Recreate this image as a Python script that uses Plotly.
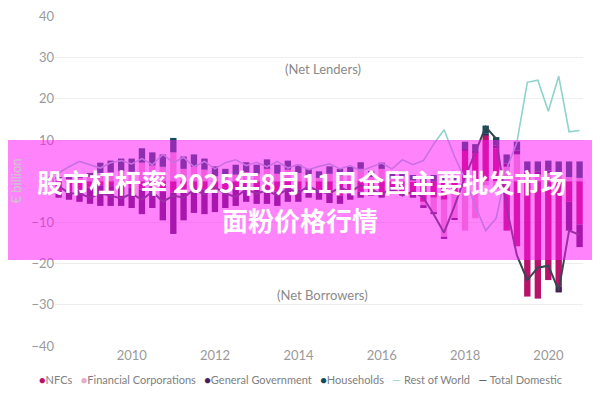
import pandas as pd
import plotly.graph_objects as go

# quarterly, 2008Q1 .. 2020Q3, € billion
quarters = pd.period_range("2008Q1", "2020Q3", freq="Q").to_timestamp(how="end").normalize()

nfcs = [-2.2, -2.5, -2.0, -1.5, -1.0, -1.2, -1.0, -1.5, -2.0, -1.5, -2.5, -2.8,
        -2.5, -1.7, -2.0, -2.5, -2.0, -1.8, -1.2, -1.5, -2.0, -2.5, -1.8, -2.0,
        -1.5, -2.0, -3.0, -3.5, -2.8, -2.5, -2.2, -2.8, -2.0, -2.6, -3.2, -5.0,
        -4.0, -4.5, -3.0, 7.5, 7.0, 11.0, 8.0, -12.0, -15.8, -28.0, -28.5, -24.0,
        -25.5, -5.0, -10.5]
fin_corps = [0.6, 0.5, 0.8, 1.0, 2.0, 2.2, 2.5, 2.3, 4.5, 3.8, 3.5, 7.0,
             3.0, 3.5, 2.8, 1.2, 0.8, 1.6, 2.2, 1.8, 3.0, 1.8, 2.8, 2.0,
             1.2, 0.8, 1.8, 1.3, 1.9, 3.0, 1.0, 3.0, 0.6, 1.1, 0.2, -0.8,
             -3.5, -9.0, -6.0, -12.0, -9.0, -1.0, -2.0, 3.5, 6.5, 1.5, 1.6, 2.0,
             2.0, 1.0, 0.8]
gen_gov = [-1.8, -2.0, -3.0, -4.0, -5.0, -4.8, -5.0, -5.0, -6.0, -5.0, -7.0, -10.0,
           -7.0, -6.0, -6.0, -5.0, -4.5, -4.2, -3.8, -4.0, -3.5, -3.5, -3.2, -3.0,
           -2.5, -2.5, -2.3, -2.0, -1.7, -1.5, -1.3, -1.2, -1.0, -0.9, -0.8, -0.7,
           -0.5, -0.5, -0.3, 0.3, 0.3, 0.5, 0.7, 0.8, 0.9, 1.0, 0.8, 0.6,
           -1.5, -7.0, -5.5]
households = [0.4, 0.5, 0.7, 1.0, 2.5, 2.8, 3.0, 3.2, 3.5, 3.2, 3.0, 3.5,
              3.0, 3.0, 2.7, 2.4, 2.2, 2.4, 2.4, 2.2, 2.3, 2.2, 2.2, 2.0,
              1.8, 1.6, 1.8, 1.7, 1.6, 1.6, 1.5, 1.5, 1.4, 1.4, 1.3, 1.2,
              1.5, 1.0, 1.2, 1.8, 1.7, 2.0, 2.0, 2.2, 2.2, 2.3, 2.4, 2.4,
              2.8, 3.8, 4.0]
rest_of_world = [2.0, 3.5, 4.8, 4.0, 3.2, 4.5, 5.0, 4.2, 5.5, 4.0, 6.5, 4.5,
                 5.8, 3.5, 4.8, 3.0, 4.5, 5.2, 3.8, 4.6, 3.5, 4.8, 3.2, 4.0,
                 2.8, 3.6, 4.2, 3.0, 3.8, 2.5, 3.4, 4.4, 3.0, 5.2, 4.0, 5.0,
                 9.0, 12.5, 6.0, 0.5, -6.0, -12.0, -9.0, 3.0, 9.5, 24.0, 24.5, 17.0,
                 25.5, 12.0, 12.3]
total_domestic = [-1.2, -2.9, -3.0, -4.0, -3.0, -3.5, -4.2, -3.0, -4.5, -2.5, -5.0, -3.5,
                  -4.0, -2.0, -3.2, -1.5, -3.0, -3.8, -2.0, -3.0, -2.2, -3.5, -1.8, -2.8,
                  -1.2, -2.5, -3.0, -1.5, -2.6, -1.0, -2.0, -3.2, -1.5, -3.5, -2.5, -4.0,
                  -8.0, -12.5, -6.0, 1.0, 7.0, 13.2, 10.3, -6.5, -18.0, -24.0, -21.0, -20.5,
                  -26.5, -12.0, -13.0]

FONT = "Lato"
GREY = "#9a9a9a"

# plot area as it lands on the page (the page body adds an 8px offset)
OFFSET = 8
TOP, BOTTOM, LEFT, WIDTH = 16, 346, 55, 528


def py(y_screen):
    return (BOTTOM - y_screen) / (BOTTOM - TOP)


def px(x_screen):
    return (x_screen - LEFT) / WIDTH


fig = go.Figure()

bars = [("NFCs", nfcs, "#B8126A"),
        ("Financial Corporations", fin_corps, "#E8AACB"),
        ("General Government", gen_gov, "#4A1B5C"),
        ("Households", households, "#0F4C5C")]
for name, vals, col in bars:
    fig.add_trace(go.Bar(x=quarters, y=vals, name=name, marker_color=col,
                         marker_line_width=0))

lines = [("Rest of World", rest_of_world, "#8FD3CB", 1.6),
         ("Total Domestic", total_domestic, "#37474F", 2)]
for name, vals, col, w in lines:
    fig.add_trace(go.Scatter(x=quarters, y=vals, name=name, mode="lines",
                             line=dict(color=col, width=w)))

fig.update_layout(
    width=600, height=400,
    margin=dict(l=LEFT - OFFSET, r=600 - (LEFT - OFFSET + WIDTH),
                t=TOP - OFFSET, b=400 - (BOTTOM - OFFSET)),
    barmode="relative", bargap=0.38,
    plot_bgcolor="white", paper_bgcolor="white",
    font=dict(family=FONT, color=GREY, size=12),
    showlegend=False,
    xaxis=dict(type="date", range=["2008-02-28", "2020-10-30"],
               tick0="2010-01-01", dtick="M24", tickformat="%Y",
               showgrid=False, zeroline=False, showline=False, automargin=False,
               tickfont=dict(size=13, color=GREY)),
    yaxis=dict(range=[-40, 40.1], dtick=10, showgrid=True, gridcolor="#eeeeee",
               zeroline=True, zerolinecolor="#eeeeee", zerolinewidth=1, automargin=False,
               tickfont=dict(size=13, color=GREY), ticklabeloverflow="allow",
               title=dict(text="€ billion", font=dict(size=13, color="#c8c8c8"), standoff=8)),
)

# legend row in the style of the source (dots for bars, dashes for lines)
items = []
for name, vals, col in bars:
    items.append('<span style="color:%s">●</span>%s' % (col, name))
for name, vals, col, w in lines:
    items.append('<span style="color:%s">—</span> %s' % (col, name))
fig.add_annotation(xref="paper", yref="paper", x=px(300), y=py(388),
                   text="   ".join(items), showarrow=False,
                   font=dict(size=11, color="#808080"))

fig.add_annotation(x="2014-08-01", y=27.2, text="(Net Lenders)", showarrow=False,
                   font=dict(size=13, color="#8a8a8a"))
fig.add_annotation(x="2014-08-01", y=-27.7, text="(Net Borrowers)", showarrow=False,
                   font=dict(size=13, color="#8a8a8a"))

# pink title banner laid over the chart
fig.add_shape(type="rect", xref="paper", yref="paper", x0=px(-10), x1=px(610),
              y0=py(260), y1=py(140),
              fillcolor="rgba(255,20,250,0.52)", line_width=0, layer="above")
fig.add_annotation(xref="paper", yref="paper", x=px(301), y=py(181),
                   text="<b>股市杠杆率 2025年8月11日全国主要批发市场</b>", showarrow=False,
                   font=dict(family="Noto Sans CJK SC", size=26, color="white"))
fig.add_annotation(xref="paper", yref="paper", x=px(300), y=py(219),
                   text="<b>面粉价格行情</b>", showarrow=False,
                   font=dict(family="Noto Sans CJK SC", size=26, color="white"))

fig.write_html("out.html")
